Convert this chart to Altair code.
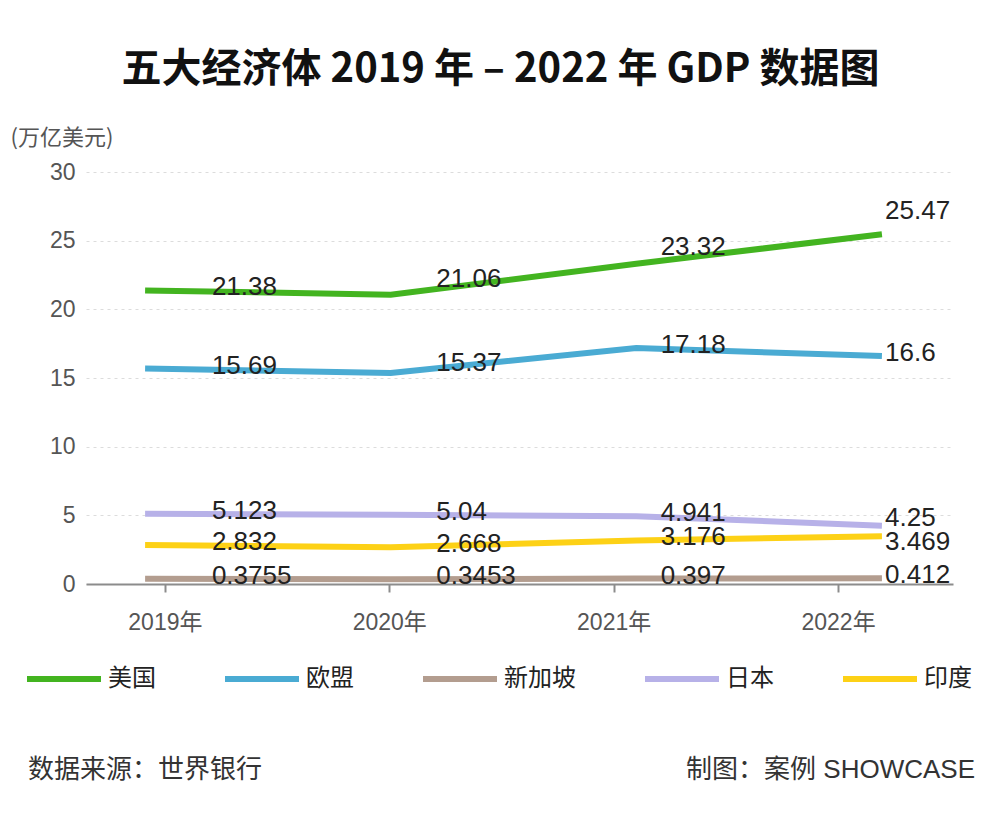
import altair as alt
import pandas as pd

countries = ["美国", "欧盟", "新加坡", "日本", "印度"]
colors = ["#43b420", "#4aabd3", "#b39d8f", "#b7b1e8", "#fdd116"]
years = ["2019年", "2020年", "2021年", "2022年"]
us = [21.38, 21.06, 23.32, 25.47]
eu = [15.69, 15.37, 17.18, 16.6]
sg = [0.3755, 0.3453, 0.397, 0.412]
jp = [5.123, 5.04, 4.941, 4.25]
india = [2.832, 2.668, 3.176, 3.469]
y_ticks = [0, 5, 10, 15, 20, 25, 30]

title_text = "五大经济体 2019 年 – 2022 年 GDP 数据图"
unit_text = "(万亿美元)"
source_text = "数据来源：世界银行"
credit_text = "制图：案例 SHOWCASE"

rows = []
for c, vals in zip(countries, [us, eu, sg, jp, india]):
    for yr, v in zip(years, vals):
        rows.append({"国家": c, "年份": yr, "GDP": v, "标签": str(v)})
df = pd.DataFrame(rows)

# label nudges (collision avoidance, as in the reference): (country, year) -> dy
nudges = {
    ("美国", "2020年"): -16,
    ("美国", "2021年"): -17,
    ("美国", "2022年"): -23,
    ("欧盟", "2020年"): -10,
    ("日本", "2022年"): -8,
    ("印度", "2022年"): 6,
}
DEFAULT_DY = -3

FONT = "Liberation Sans, Noto Sans CJK SC"
CJK = "Noto Sans CJK SC"
GRAY = "#555555"

base = alt.Chart(df)

lines = base.mark_line(strokeWidth=6).encode(
    x=alt.X("年份:N", sort=years,
            scale=alt.Scale(type="point", padding=0.265, align=0.454),
            axis=None),
    y=alt.Y("GDP:Q", scale=alt.Scale(domain=[0, 30], nice=False),
            axis=alt.Axis(values=y_ticks, title=unit_text, titleAngle=0,
                          titleAlign="left", titleBaseline="middle",
                          titleX=-76, titleY=-35, titleFont=CJK,
                          titleFontSize=22, titleFontWeight="normal",
                          titleColor=GRAY, labelFont=FONT, labelFontSize=23,
                          labelColor=GRAY, labelPadding=11, domain=False,
                          ticks=False, grid=True, gridColor="#dcdcdc",
                          gridDash=[3, 4], gridWidth=1)),
    color=alt.Color("国家:N", sort=countries,
                    scale=alt.Scale(domain=countries, range=colors),
                    legend=alt.Legend(title=None, orient="none", legendX=-62,
                                      legendY=467, direction="horizontal",
                                      columns=5, columnPadding=57,
                                      symbolType="stroke", symbolStrokeWidth=6,
                                      symbolSize=5476, labelFontSize=24,
                                      labelFont=CJK, labelColor="#222222",
                                      labelOffset=4, padding=0)),
)

x_text = alt.X("年份:N", sort=years,
               scale=alt.Scale(type="point", padding=0.432, align=0.407),
               axis=alt.Axis(title=None, labelAngle=0, labelFont=FONT,
                             labelFontSize=23, labelColor=GRAY, labelPadding=19,
                             domainColor="#8c8c8c", domainWidth=2,
                             tickColor="#8c8c8c", tickWidth=2, tickSize=8,
                             grid=False))


def label_layer(dy, flt):
    return base.transform_filter(flt).mark_text(
        align="left", baseline="middle", dx=47, dy=dy,
        fontSize=26, font="Liberation Sans", color="#222222"
    ).encode(x=x_text, y=alt.Y("GDP:Q"), text="标签:N")


def key_expr(c, y):
    return f"datum['国家'] == '{c}' && datum['年份'] == '{y}'"


nudged = " || ".join(f"({key_expr(c, y)})" for (c, y) in nudges)
label_layers = [label_layer(DEFAULT_DY, f"!({nudged})")]
for (c, y), dy in nudges.items():
    label_layers.append(label_layer(dy, key_expr(c, y)))
labels = alt.layer(*label_layers)

foot_left = alt.Chart(pd.DataFrame({"t": [source_text]})).mark_text(
    align="left", baseline="middle", fontSize=26, font=CJK, color="#333333"
).encode(x=alt.value(-58), y=alt.value(598), text="t:N")

foot_right = alt.Chart(pd.DataFrame({"t": [credit_text]})).mark_text(
    align="right", baseline="middle", fontSize=26, font=FONT, color="#333333"
).encode(x=alt.value(889), y=alt.value(598), text="t:N")

chart = alt.layer(lines, labels, foot_left, foot_right).resolve_scale(
    x="independent"
).properties(
    width=867,
    height=412,
    autosize=alt.AutoSizeParams(type="none"),
    padding={"left": 78, "top": 164, "right": 39, "bottom": 235},
    title=alt.TitleParams(text=title_text, fontSize=40, fontWeight="bold",
                          font=CJK, color="#111111", anchor="middle",
                          frame="group", dx=-19, offset=36),
).configure_view(stroke=None)

chart.save("out.html", embed_options={"renderer": "svg", "actions": False})
